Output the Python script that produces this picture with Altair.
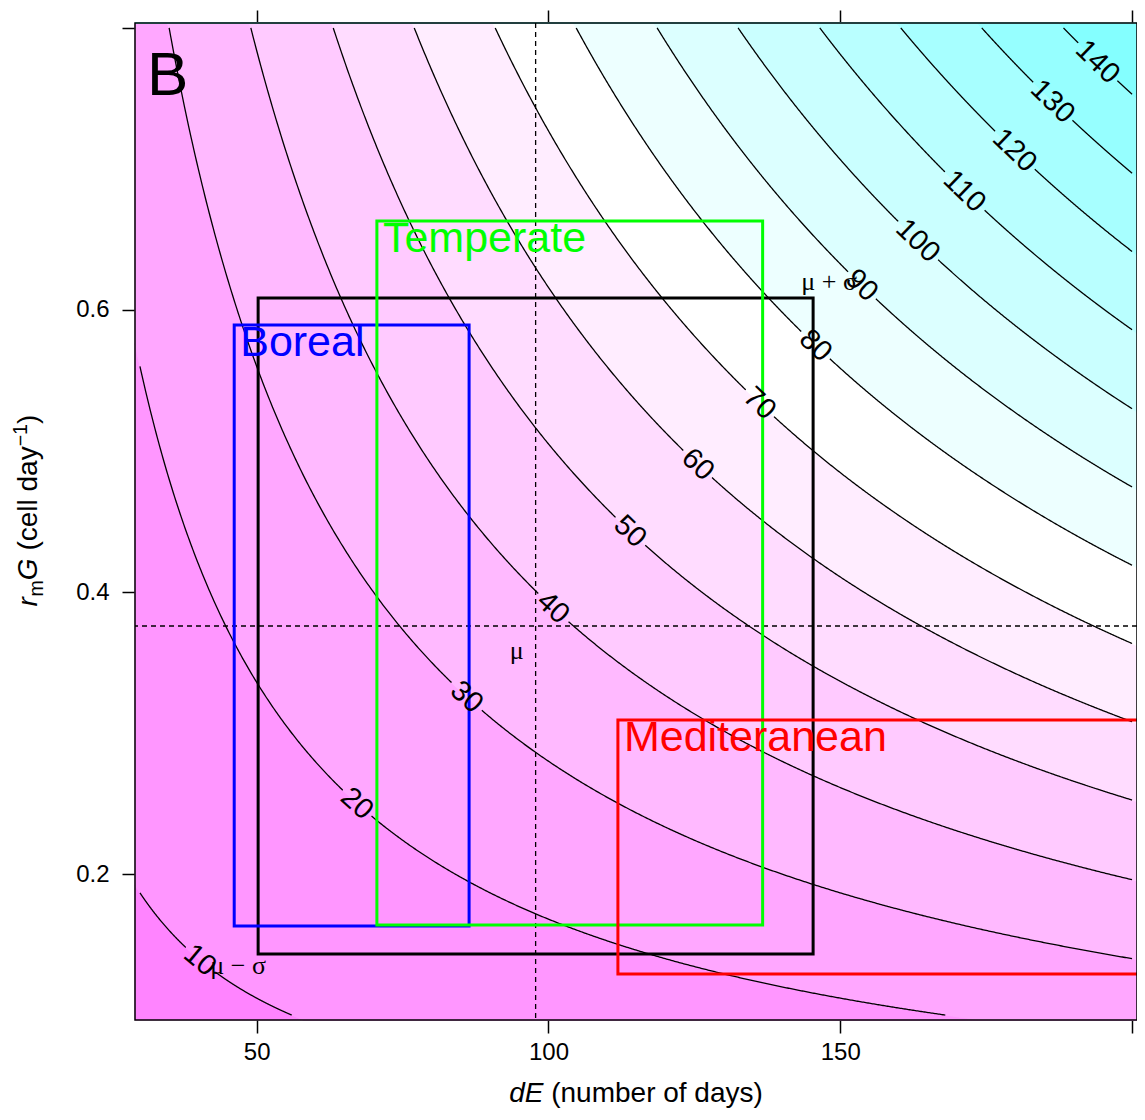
import math
import altair as alt
import numpy as np
import pandas as pd

# ---------------- values ----------------
levels = [10, 20, 30, 40, 50, 60, 70, 80, 90, 100, 110, 120, 130, 140]
# dE * rmG product along each contour line
level_products = [5.6, 16.8, 28.0, 39.2, 50.5, 61.6, 72.7, 83.8, 94.9, 106.0, 117.2, 128.3, 139.4, 150.6]
# dE position of each contour label
label_x = [40.3, 67.2, 86.0, 100.8, 114.0, 125.6, 136.2, 145.8, 153.7, 163.3, 171.3, 179.9, 186.4, 194.1]
# value represented by each filled band (below 10, 10-20, ..., above 140)
band_values = [5, 15, 25, 35, 45, 55, 65, 75, 85, 95, 105, 115, 125, 135, 145]

region_names = ["Boreal", "Temperate", "Mediteranean"]
region_x1 = [46.15, 70.6, 111.9]
region_x2 = [86.4, 136.7, 215.0]
region_y1 = [0.1631, 0.1638, 0.1291]
region_y2 = [0.5894, 0.6631, 0.3092]
region_colors = ["#0000ff", "#00ff00", "#ff0000"]

mu = [97.8, 0.3759]
sigma = [47.55, 0.2326]

x_ticks = [50, 100, 150, 200]
y_ticks = [0.2, 0.4, 0.6, 0.8]
x_domain = [29.15, 200.85]
y_domain = [0.0965, 0.8035]
grid_x = [30.0, 200.0]
grid_y = [0.1, 0.8]

# ---------------- layout ----------------
W, H = 1002, 997
LABEL_FS = 29
FONT = "Liberation Sans"
sx = W / (x_domain[1] - x_domain[0])
sy = H / (y_domain[1] - y_domain[0])

xscale = alt.Scale(domain=x_domain, nice=False, zero=False)
yscale = alt.Scale(domain=y_domain, nice=False, zero=False)
band_scale = alt.Scale(domain=[5, 75, 145], range=["#ff84ff", "#ffffff", "#84ffff"], interpolate="rgb")

# ---------------- filled bands between contour lines ----------------
xs = np.linspace(x_domain[0], x_domain[1], 500)
band_rows = []
for i, b in enumerate(band_values):
    lo = level_products[i - 1] / xs if i > 0 else np.full_like(xs, y_domain[0])
    hi = level_products[i] / xs if i < len(levels) else np.full_like(xs, y_domain[1])
    lo = np.clip(lo, *y_domain)
    hi = np.clip(hi, *y_domain)
    for x, a, c in zip(xs, lo, hi):
        band_rows.append({"x": x, "lo": a, "hi": c, "band": b})
band_df = pd.DataFrame(band_rows)

# ---------------- contour lines and labels ----------------
line_rows, lab_rows = [], []
for L, k, lx in zip(levels, level_products, label_x):
    xa = max(grid_x[0], k / grid_y[1])
    xb = min(grid_x[1], k / grid_y[0])
    cx = np.linspace(xa, xb, 700)
    cy = k / cx
    ly = k / lx
    half = len(str(L)) * 0.556 * LABEL_FS / 2 + 3
    d = np.hypot((cx - lx) * sx, (cy - ly) * sy)
    for x, y, dd in zip(cx, cy, d):
        if dd > half:
            line_rows.append({"x": x, "y": y, "seg": f"{L}{'a' if x < lx else 'b'}"})
    ang = math.degrees(math.atan(k / lx ** 2 * sy / sx))
    lab_rows.append({"x": lx, "y": ly, "text": str(L), "angle": ang})
line_df = pd.DataFrame(line_rows)
lab_df = pd.DataFrame(lab_rows)

region_df = pd.DataFrame({
    "name": region_names, "x1": region_x1, "x2": region_x2,
    "y1": region_y1, "y2": region_y2, "color": region_colors,
})
black_df = pd.DataFrame({
    "x1": [mu[0] - sigma[0]], "x2": [mu[0] + sigma[0]],
    "y1": [mu[1] - sigma[1]], "y2": [mu[1] + sigma[1]],
})
mu_df = pd.DataFrame({"x": [mu[0]], "y": [mu[1]]})
one = pd.DataFrame({"a": [0]})

# ---------------- layers ----------------
bands = alt.Chart(band_df).mark_area(strokeWidth=1, interpolate="linear").encode(
    x=alt.X("x:Q", scale=xscale,
            axis=alt.Axis(orient="bottom", values=x_ticks, title=None, labelPadding=7,
                          labelExpr="datum.value > 190 ? '' : datum.label")),
    y=alt.Y("lo:Q", scale=yscale,
            axis=alt.Axis(orient="left", values=y_ticks, title=None, format=".1f", labelPadding=13,
                          labelExpr="datum.value > 0.75 ? '' : datum.label")),
    y2="hi:Q",
    color=alt.Color("band:Q", legend=None, scale=band_scale),
    stroke=alt.Color("band:Q", legend=None, scale=band_scale),
    detail="band:N",
)

contours = alt.Chart(line_df).mark_line(color="black", strokeWidth=1.3).encode(
    x=alt.X("x:Q", scale=xscale,
            axis=alt.Axis(orient="top", values=x_ticks, title=None, labels=False)),
    y=alt.Y("y:Q", scale=yscale,
            axis=alt.Axis(orient="right", values=y_ticks, title=None, labels=False)),
    detail="seg:N",
    order="x:Q",
)

vrule = alt.Chart(mu_df).mark_rule(color="black", strokeWidth=1.3, strokeDash=[5, 4]).encode(
    x=alt.X("x:Q", scale=xscale, axis=None))
hrule = alt.Chart(mu_df).mark_rule(color="black", strokeWidth=1.3, strokeDash=[5, 4]).encode(
    y=alt.Y("y:Q", scale=yscale, axis=None))

black_rect = alt.Chart(black_df).mark_rect(fillOpacity=0, stroke="black", strokeWidth=3).encode(
    x=alt.X("x1:Q", scale=xscale, axis=None), x2="x2:Q",
    y=alt.Y("y1:Q", scale=yscale, axis=None), y2="y2:Q",
)
region_rects = alt.Chart(region_df).mark_rect(fillOpacity=0, strokeWidth=3, clip=True).encode(
    x=alt.X("x1:Q", scale=xscale, axis=None), x2="x2:Q",
    y=alt.Y("y1:Q", scale=yscale, axis=None), y2="y2:Q",
    stroke=alt.Color("color:N", scale=None),
)
region_labels = alt.Chart(region_df).mark_text(
    align="left", baseline="top", dx=6, dy=-3, fontSize=43, font=FONT).encode(
    x=alt.X("x1:Q", scale=xscale, axis=None),
    y=alt.Y("y2:Q", scale=yscale, axis=None),
    text="name:N",
    color=alt.Color("color:N", scale=None),
)

contour_labels = alt.Chart(lab_df).mark_text(
    fontSize=LABEL_FS, font=FONT, color="black", align="center", baseline="middle").encode(
    x=alt.X("x:Q", scale=xscale, axis=None),
    y=alt.Y("y:Q", scale=yscale, axis=None),
    text="text:N",
    angle=alt.Angle("angle:Q", scale=None),
)

def mu_label(text, x, y, dx, dy):
    return alt.Chart(pd.DataFrame({"x": [x], "y": [y]})).mark_text(
        text=text, font="Liberation Serif", fontSize=26, color="black",
        align="center", baseline="middle", dx=dx, dy=dy).encode(
        x=alt.X("x:Q", scale=xscale, axis=None),
        y=alt.Y("y:Q", scale=yscale, axis=None))

mu_labels = [
    mu_label("μ", mu[0], mu[1], -19, 25),
    mu_label("μ + σ", mu[0] + sigma[0], mu[1] + sigma[1], 16, -16),
    mu_label("μ − σ", mu[0] - sigma[0], mu[1] - sigma[1], -20, 12),
]

def piece(text, px, py, size, italic=False, angle=0, align="left", baseline="alphabetic", font=FONT):
    kw = dict(text=text, fontSize=size, font=font, color="black", align=align,
              baseline=baseline, angle=angle)
    if italic:
        kw["fontStyle"] = "italic"
    return alt.Chart(one).mark_text(**kw).encode(x=alt.value(px), y=alt.value(py))

F = 28
# x title: "dE (number of days)"
x_total = (1.223 + 0.278 + 7.558) * F
x0 = W / 2 - x_total / 2
XT_Y = 1079
xtitle = [
    piece("dE", x0, XT_Y, F, italic=True),
    piece("(number of days)", x0 + (1.223 + 0.278) * F, XT_Y, F),
]
# y title: "r_m G (cell day^-1)" rotated
bx = -98
y_total = (0.333 + 0.583 + 0.778 + 0.278 + 3.723 + 0.798 + 0.333) * F
pos = 488 + y_total / 2
ytitle = []
ytitle.append(piece("r", bx, pos, F, italic=True, angle=270)); pos -= 0.36 * F
ytitle.append(piece("m", bx + 0.2 * F, pos, 0.7 * F, angle=270)); pos -= 0.583 * F
ytitle.append(piece("G", bx, pos, F, italic=True, angle=270)); pos -= (0.778 + 0.278) * F
ytitle.append(piece("(cell day", bx, pos, F, angle=270)); pos -= 3.723 * F
ytitle.append(piece("−1", bx - 0.36 * F, pos, 0.7 * F, angle=270)); pos -= 0.798 * F
ytitle.append(piece(")", bx, pos, F, angle=270))

panel_letter = piece("B", 12, 72, 62)

frame = alt.Chart(one).mark_rect(fillOpacity=0, stroke="black", strokeWidth=1.5).encode(
    x=alt.value(0), x2=alt.value(W), y=alt.value(0), y2=alt.value(H))

chart = alt.layer(
    bands, contours, vrule, hrule, black_rect, region_rects, region_labels,
    contour_labels, *mu_labels, panel_letter, *xtitle, *ytitle, frame,
).resolve_axis(x="independent", y="independent").properties(
    width=W, height=H,
    autosize=alt.AutoSizeParams(type="none"),
    padding={"left": 127, "top": 15, "right": 0, "bottom": 88},
).configure_view(stroke=None).configure_axis(
    domain=False, grid=False, ticks=True, tickColor="black", tickSize=13, tickWidth=1.5,
    labelFont=FONT, labelFontSize=24, labelColor="black",
).configure_text(font=FONT)

chart.save("out.html", embed_options={"renderer": "svg", "actions": False})
